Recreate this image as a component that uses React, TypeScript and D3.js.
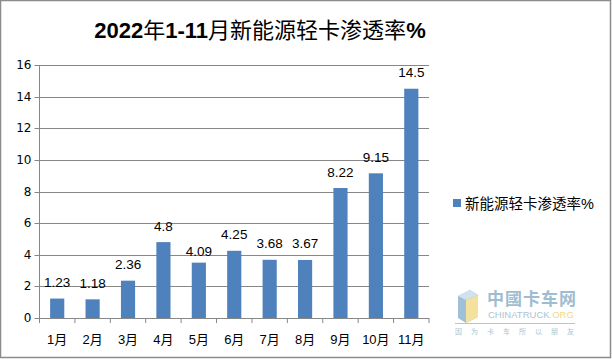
import React from "react";
import * as d3 from "d3";

const categories = ["1月", "2月", "3月", "4月", "5月", "6月", "7月", "8月", "9月", "10月", "11月"];
const barValues = [1.23, 1.18, 2.36, 4.8, 3.5, 4.25, 3.68, 3.67, 8.22, 9.15, 14.5];
const valueLabels = ["1.23", "1.18", "2.36", "4.8", "4.09", "4.25", "3.68", "3.67", "8.22", "9.15", "14.5"];
const yTicks = [0, 2, 4, 6, 8, 10, 12, 14, 16];
const seriesName = "新能源轻卡渗透率%";

const W = 612;
const H = 359;
const left = 39.5;
const right = 429;
const top = 65;
const bottom = 318;

export default function App() {
  const x = d3.scaleBand<string>().domain(categories).range([left, right]).paddingInner(0.6).paddingOuter(0.3);
  const y = d3.scaleLinear().domain([0, 16]).range([bottom, top]);
  const step = x.step();
  const grid = "#878787";
  const cjk = "'Liberation Sans','Noto Sans CJK SC',sans-serif";
  return (
    <svg width={W} height={H} style={{ position: "absolute", left: 0, top: 0, background: "#fff" }}>
      <rect x={0.5} y={0.5} width={610} height={357} fill="#fff" stroke="#8c8c8c" strokeWidth={1.5} />
      <text x={260} y={38} textAnchor="middle" fontSize={22} fill="#000" fontFamily={cjk}>
        <tspan fontWeight="bold">2022</tspan>
        <tspan>年</tspan>
        <tspan fontWeight="bold">1-11</tspan>
        <tspan>月新能源轻卡渗透率</tspan>
        <tspan fontWeight="bold">%</tspan>
      </text>
      {yTicks.map((t) => (
        <g key={t}>
          {t > 0 && <line x1={left} x2={right} y1={Math.round(y(t)) + 0.5} y2={Math.round(y(t)) + 0.5} stroke={grid} strokeWidth={1} />}
          <line x1={left - 5} x2={left} y1={Math.round(y(t)) + 0.5} y2={Math.round(y(t)) + 0.5} stroke={grid} />
          <text x={left - 8} y={y(t) + 4} textAnchor="end" fontSize={12} fontFamily="'DejaVu Sans',sans-serif" fill="#000">
            {t}
          </text>
        </g>
      ))}
      <line x1={left} x2={left} y1={top} y2={bottom} stroke={grid} />
      {categories.map((c, i) => (
        <rect key={c} x={x(c)} y={y(barValues[i])} width={x.bandwidth()} height={bottom - y(barValues[i])} fill="#4F81BD" />
      ))}
      <line x1={left} x2={right} y1={bottom + 0.5} y2={bottom + 0.5} stroke={grid} />
      {d3.range(categories.length + 1).map((i) => (
        <line key={i} x1={left + i * step} x2={left + i * step} y1={bottom} y2={bottom + 5} stroke={grid} />
      ))}
      {categories.map((c, i) => (
        <text key={c} x={(x(c) as number) + x.bandwidth() / 2} y={344} textAnchor="middle" fontSize={13} fontFamily={cjk} fill="#000">
          {c}
        </text>
      ))}
      {categories.map((c, i) => (
        <text
          key={c}
          x={(x(c) as number) + x.bandwidth() / 2}
          y={y(barValues[i]) - (valueLabels[i] === "4.09" ? 7 : 11.5)}
          textAnchor="middle"
          fontSize={13.5}
          fontFamily="'Liberation Sans',sans-serif"
          fill="#000"
        >
          {valueLabels[i]}
        </text>
      ))}
      <rect x={453} y={199} width={8} height={8} fill="#4F81BD" />
      <text x={465} y={209} fontSize={14.5} fontFamily={cjk} fill="#000">
        {seriesName}
      </text>
      <g opacity={0.85}>
        <polygon points="458,296 470,290 478,295 478,317 466,323 458,318" fill="#8fb6d3" />
        <polygon points="466,300 478,295 478,317 466,323" fill="#f3dc8a" />
        <polygon points="458,296 470,290 478,295 466,300" fill="#c9dcea" />
        <text x={487} y={305} fontSize={17} fontWeight="bold" fontFamily={cjk} fill="#8fb2c9" letterSpacing={1}>
          中國卡车网
        </text>
        <text x={488} y={318} fontSize={9.5} fontFamily="'Liberation Sans',sans-serif" fill="#9cb9cd">
          CHINATRUCK<tspan fill="#f0d27a">.ORG</tspan>
        </text>
        <line x1={455} x2={575} y1={323.5} y2={323.5} stroke="#9ec0d3" strokeWidth={1} />
        <text x={455} y={334} fontSize={7} fontFamily={cjk} fill="#9cb9cd" letterSpacing={9}>
          因为卡车所以朋友
        </text>
      </g>
    </svg>
  );
}
